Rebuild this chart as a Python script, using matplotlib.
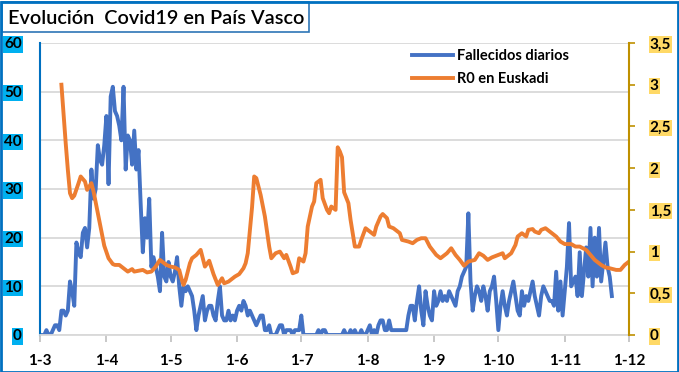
import matplotlib
matplotlib.use("Agg")
import matplotlib.pyplot as plt
import matplotlib.patches as mpatches
import pandas as pd
import numpy as np

plt.rcParams['font.family'] = ['Lato', 'DejaVu Sans']

# Daily deaths (Fallecidos diarios), one value per day starting 1 March 2020
fallecidos = [
    0, 0, 0, 1, 0, 0, 1, 2, 2, 1,
    5, 5, 4, 5, 11, 9, 6, 19, 17, 16,
    21, 22, 18, 22, 34, 28, 30, 39, 36, 35,
    39, 45, 31, 49, 51, 46, 45, 43, 40, 51,
    34, 41, 40, 35, 42, 34, 38, 27, 17, 24,
    20, 28, 14, 16, 14, 12, 9, 21, 12, 11,
    15, 12, 11, 13, 16, 10, 6, 10, 9, 10,
    9, 8, 5, 1, 4, 6, 8, 3, 5, 6,
    6, 4, 3, 7, 10, 4, 3, 3, 5, 3,
    4, 3, 5, 6, 5, 7, 6, 4, 5, 4,
    3, 2, 3, 4, 4, 1, 1, 2, 0, 0,
    0, 1, 2, 2, 0, 1, 1, 1, 0, 1,
    1, 1, 4, 0, 0, 0, 0, 0, 0, 0,
    1, 0, 1, 1, 0, 0, 0, 0, 0, 0,
    0, 0, 1, 0, 0, 1, 0, 1, 0, 0,
    1, 0, 0, 1, 2, 0, 1, 0, 2, 3,
    3, 1, 1, 3, 1, 1, 1, 1, 1, 1,
    1, 1, 4, 6, 6, 3, 7, 10, 5, 2,
    9, 6, 4, 3, 9, 6, 7, 9, 7, 8,
    7, 9, 8, 7, 6, 9, 10, 12, 13, 14,
    25, 11, 5, 8, 10, 9, 7, 10, 8, 5,
    9, 10, 12, 7, 1, 6, 9, 6, 4, 7,
    9, 11, 8, 5, 4, 9, 6, 8, 7, 9,
    11, 8, 6, 4, 8, 10, 9, 8, 7, 7,
    6, 13, 5, 11, 4, 9, 14, 23, 10, 11,
    12, 8, 17, 8, 13, 18, 12, 22, 10, 20,
    12, 22, 11, 15, 19, 14, 12, 8,
]

# R0 in Euskadi: readings (days since 1 March 2020, value)
r0_days = [
    10, 12, 13, 14, 15, 16, 18, 19, 21, 22, 24, 25, 27, 29, 30, 32, 34, 35, 37, 39,
    41, 43, 44, 46, 48, 50, 52, 54, 56, 58, 59, 61, 63, 65, 66, 67, 68, 70, 71, 73,
    75, 77, 79, 81, 83, 85, 86, 88, 91, 93, 95, 96, 97, 99, 100, 101, 102, 103, 105, 107,
    108, 110, 112, 114, 115, 117, 118, 120, 121, 123, 124, 125, 127, 128, 129, 131, 132, 134, 135, 136,
    137, 138, 139, 140, 141, 142, 144, 145, 147, 149, 150, 152, 154, 156, 157, 159, 160, 162, 163, 165,
    166, 168, 169, 172, 174, 176, 178, 180, 182, 185, 187, 190, 192, 194, 196, 198, 200, 203, 205, 207,
    209, 211, 214, 216, 217, 220, 222, 223, 225, 227, 228, 230, 231, 233, 234, 236, 238, 241, 243, 245,
    248, 250, 252, 255, 257, 259, 262, 264, 266, 269, 271, 273, 275,
]
r0_values = [
    3.00, 2.30, 1.98, 1.70, 1.64, 1.67, 1.82, 1.90, 1.84, 1.74, 1.82, 1.72, 1.46, 1.20, 1.07, 0.92, 0.85, 0.84, 0.84, 0.80,
    0.76, 0.79, 0.76, 0.77, 0.78, 0.75, 0.76, 0.82, 0.90, 0.86, 0.84, 0.82, 0.81, 0.78, 0.68, 0.60, 0.66, 0.86, 0.92, 0.96,
    1.02, 0.82, 0.89, 0.73, 0.60, 0.68, 0.62, 0.64, 0.70, 0.73, 0.80, 0.86, 0.98, 1.53, 1.90, 1.88, 1.78, 1.68, 1.42, 1.06,
    0.92, 0.98, 1.00, 0.92, 0.96, 0.82, 0.74, 0.76, 0.92, 0.88, 0.98, 1.30, 1.54, 1.60, 1.82, 1.86, 1.64, 1.50, 1.46, 1.54,
    1.52, 1.50, 2.25, 2.20, 2.13, 1.71, 1.58, 1.38, 1.06, 1.06, 1.14, 1.28, 1.24, 1.20, 1.30, 1.42, 1.45, 1.40, 1.30, 1.28,
    1.26, 1.22, 1.14, 1.12, 1.10, 1.14, 1.16, 1.16, 1.06, 0.96, 0.92, 0.98, 1.04, 0.96, 0.90, 0.83, 0.88, 0.90, 0.98, 0.95,
    0.90, 0.93, 0.96, 0.98, 0.92, 0.98, 1.08, 1.18, 1.22, 1.18, 1.26, 1.27, 1.24, 1.22, 1.26, 1.28, 1.24, 1.18, 1.12, 1.09,
    1.09, 1.06, 1.06, 1.02, 0.96, 0.90, 0.84, 0.81, 0.80, 0.78, 0.78, 0.84, 0.88,
]

month_starts = ['2020-03-01', '2020-04-01', '2020-05-01', '2020-06-01', '2020-07-01',
                '2020-08-01', '2020-09-01', '2020-10-01', '2020-11-01', '2020-12-01']
month_labels = ['1-3', '1-4', '1-5', '1-6', '1-7', '1-8', '1-9', '1-10', '1-11', '1-12']
left_ticks = [0, 10, 20, 30, 40, 50, 60]
right_ticks = [0, 0.5, 1, 1.5, 2, 2.5, 3, 3.5]
right_labels = ['0', '0,5', '1', '1,5', '2', '2,5', '3', '3,5']

title = 'Evolución  Covid19 en País Vasco'
label_blue = 'Fallecidos diarios'
label_orange = 'R0 en Euskadi'

BLUE = '#4472C4'
ORANGE = '#ED7D31'

start = pd.Timestamp('2020-03-01')
blue_dates = start + pd.to_timedelta(np.arange(len(fallecidos)), unit='D')
r0_dates = start + pd.to_timedelta(r0_days, unit='D')
mstarts = pd.to_datetime(month_starts)

W, H = 679, 372
fig = plt.figure(figsize=(W / 100, H / 100), dpi=100)
fig.patch.set_facecolor('white')

L, R, T, B = 40, 629, 43, 335
ax = fig.add_axes([L / W, 1 - B / H, (R - L) / W, (B - T) / H])
ax2 = ax.twinx()

l1, = ax.plot(blue_dates, fallecidos, color=BLUE, lw=2.8, solid_joinstyle='round', label=label_blue)
l2, = ax2.plot(r0_dates, r0_values, color=ORANGE, lw=2.8, solid_joinstyle='round', label=label_orange)

ax.set_xlim(mstarts[0], mstarts[-1])
ax.set_ylim(0, 60)
ax2.set_ylim(0, 3.5)

ax.set_yticks(left_ticks)
ax.set_yticklabels([str(v) for v in left_ticks])
ax2.set_yticks(right_ticks)
ax2.set_yticklabels(right_labels)
ax.set_xticks(mstarts)
ax.set_xticklabels(month_labels)

ax.grid(axis='y', color='#D9D9D9', lw=1.3)
ax.set_axisbelow(True)

for s in ['top']:
    ax.spines[s].set_visible(False)
    ax2.spines[s].set_visible(False)
ax.spines['right'].set_visible(False)
ax2.spines['left'].set_visible(False)
ax2.spines['bottom'].set_visible(False)
ax.spines['left'].set_color('#0070C0')
ax.spines['left'].set_linewidth(1.5)
ax2.spines['right'].set_color('#BF9000')
ax2.spines['right'].set_linewidth(1.5)
ax.spines['bottom'].set_color('#D9D9D9')
ax.spines['bottom'].set_linewidth(1.3)

ax.tick_params(axis='y', length=0, pad=13)
ax.tick_params(axis='x', length=5, color='#BFBFBF', width=1.2, pad=9)
ax2.tick_params(axis='y', length=4, color='#BF9000', width=1.2, pad=11)

for lab in ax.get_yticklabels():
    lab.set_fontsize(11)
    lab.set_fontweight('bold')
    lab.set_bbox(dict(facecolor='#00B0F0', edgecolor='none', pad=0.8))
for lab in ax2.get_yticklabels():
    lab.set_fontsize(11)
    lab.set_fontweight('bold')
    lab.set_bbox(dict(facecolor='#FFD966', edgecolor='none', pad=0.8))
for lab in ax.get_xticklabels():
    lab.set_fontsize(11)
    lab.set_fontweight('bold')

leg = fig.legend([l1, l2], [label_blue, label_orange], loc='upper left',
                 bbox_to_anchor=(412 / W, 1 - 49 / H), frameon=False,
                 borderpad=0, borderaxespad=0, handlelength=2.8, handletextpad=0.3,
                 labelspacing=0.6, prop={'weight': 'bold', 'size': 10.5})

# title box
fig.patches.append(mpatches.Rectangle((1.5 / W, 1 - 32 / H), 307 / W, 30 / H,
                                      transform=fig.transFigure, facecolor='white',
                                      edgecolor='#2E75B6', lw=1.2))
fig.text(8 / W, 1 - 24.5 / H, title, fontsize=14.3, color='black',
         ha='left', va='baseline', fontweight='semibold')

# outer border
fig.patches.append(mpatches.Rectangle((0.5 / W, 0.5 / H), (W - 2) / W, (H - 2) / H,
                                      transform=fig.transFigure, facecolor='none',
                                      edgecolor='#0070C0', lw=2))

fig.savefig('out.png', dpi=100)
